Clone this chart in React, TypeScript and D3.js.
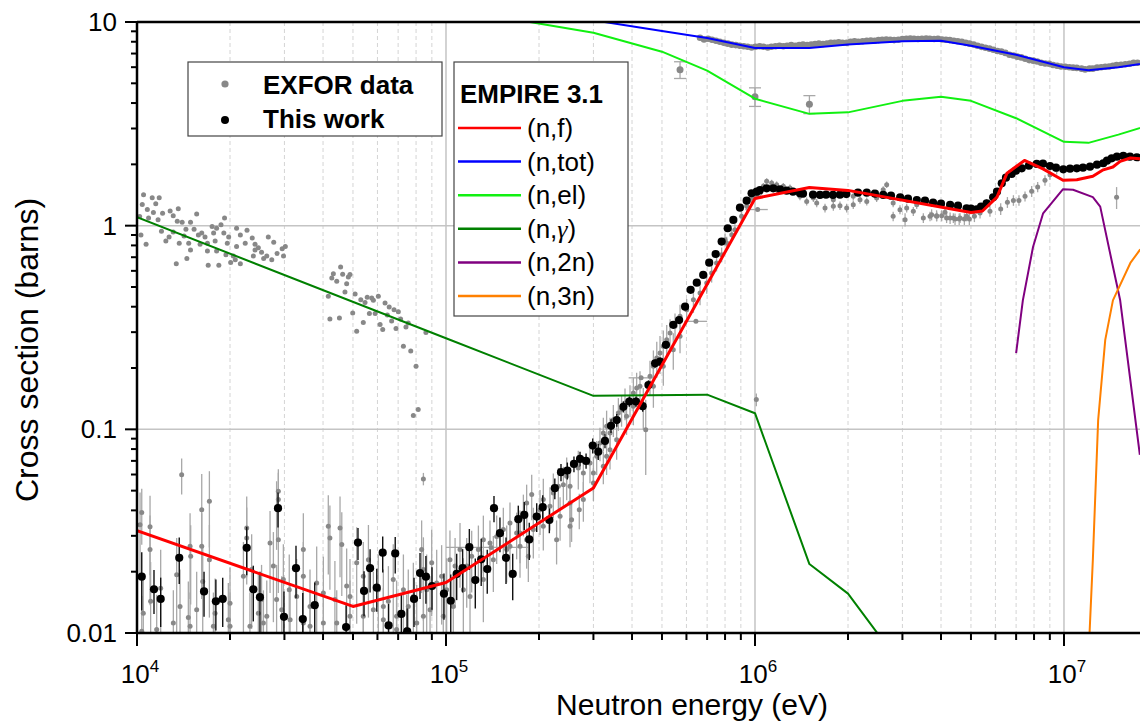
import React from 'react';
import * as d3 from 'd3';

const W = 1140;
const H = 723;

// axis ticks
const xMajorTicks = [1e4, 1e5, 1e6, 1e7];
const xMajorExp = ['4', '5', '6', '7'];
const yMajorTicks = [0.01, 0.1, 1, 10];
const yMajorLabels = ['0.01', '0.1', '1', '10'];
const minorMultipliers = [2, 3, 4, 5, 6, 7, 8, 9];

// EMPIRE 3.1 evaluations [energy eV, cross section b]
const empireFission: [number, number][] = [
  [1e4, 0.0318], [5e4, 0.0135], [1e5, 0.0177], [3e5, 0.0515], [1e6, 1.36], [1.5e6, 1.54],
  [2e6, 1.49], [5e6, 1.16], [5.45e6, 1.18], [6.07e6, 1.38], [6.54e6, 1.81], [7.45e6, 2.09],
  [8.55e6, 1.9], [9.93e6, 1.67], [1.1e7, 1.68], [1.24e7, 1.75], [1.34e7, 1.88], [1.44e7, 1.94],
  [1.52e7, 2.07], [1.64e7, 2.15], [1.76e7, 2.13], [2e7, 2.12],
];
const empireTotal: [number, number][] = [
  [2.5e5, 11.0], [3e5, 10.2], [5e5, 9.03], [7e5, 8.34], [1e6, 7.45], [1.5e6, 7.45], [2e6, 7.75],
  [3e6, 8.05], [4e6, 8.1], [5e6, 7.65], [7e6, 6.9], [1e7, 6.0], [1.2e7, 5.8], [1.5e7, 6.0], [2e7, 6.4],
];
const empireElastic: [number, number][] = [
  [1.6e5, 10.4], [3e5, 8.86], [5e5, 7.15], [7e5, 5.77], [1e6, 4.2], [1.5e6, 3.54], [2e6, 3.6],
  [3e6, 4.1], [4e6, 4.3], [5e6, 4.1], [7e6, 3.37], [1e7, 2.58], [1.2e7, 2.55], [1.5e7, 2.8], [2e7, 3.2],
];
const empireCapture: [number, number][] = [
  [1e4, 1.1], [1e5, 0.28], [3e5, 0.146], [7e5, 0.148], [1e6, 0.12], [1.5e6, 0.0218],
  [2e6, 0.0156], [2.5e6, 0.0099], [3e6, 0.0067],
];
const empireN2n: [number, number][] = [
  [7.0e6, 0.237], [7.36e6, 0.43], [7.94e6, 0.786], [8.56e6, 1.15], [9.93e6, 1.51], [1.07e7, 1.5],
  [1.24e7, 1.38], [1.31e7, 1.24], [1.44e7, 0.63], [1.52e7, 0.43], [1.76e7, 0.075],
];
const empireN3n: [number, number][] = [
  [1.2e7, 0.005], [1.21e7, 0.01], [1.24e7, 0.0229], [1.29e7, 0.111], [1.36e7, 0.275],
  [1.44e7, 0.43], [1.64e7, 0.656], [1.76e7, 0.76], [2e7, 0.85],
];

// This work [E, sigma, err]
const thisWork: [number, number, number][] = [
  [1.036e4, 0.0189, 0.006], [1.135e4, 0.0164, 0.004], [1.193e4, 0.0147, 0.004], [1.37e4, 0.0234, 0.006],
  [1.648e4, 0.016, 0.004], [1.8e4, 0.0143, 0.004], [1.894e4, 0.0147, 0.004], [2.265e4, 0.0262, 0.007],
  [2.379e4, 0.0164, 0.005], [2.5e4, 0.015, 0.005], [2.86e4, 0.041, 0.008], [2.99e4, 0.012, 0.004],
  [3.27e4, 0.0208, 0.006], [3.44e4, 0.0117, 0.004], [3.76e4, 0.0137, 0.004], [4.75e4, 0.0107, 0.003],
  [5.19e4, 0.0278, 0.005], [5.43e4, 0.0161, 0.004], [5.68e4, 0.0208, 0.005], [5.97e4, 0.0167, 0.004],
  [6.24e4, 0.0248, 0.005], [6.52e4, 0.0109, 0.003], [6.85e4, 0.0246, 0.005], [7.17e4, 0.0124, 0.003],
  [7.49e4, 0.0102, 0.003], [7.88e4, 0.0147, 0.004], [8.24e4, 0.0197, 0.005], [8.61e4, 0.0189, 0.005],
  [9.01e4, 0.017, 0.004], [9.85e4, 0.0156, 0.004], [1.036e5, 0.0144, 0.005], [1.083e5, 0.0195, 0.005],
  [1.132e5, 0.0208, 0.005], [1.19e5, 0.0264, 0.006], [1.244e5, 0.0182, 0.005], [1.30e5, 0.023, 0.006],
  [1.36e5, 0.0206, 0.005], [1.43e5, 0.041, 0.006], [1.495e5, 0.0309, 0.006], [1.564e5, 0.0234, 0.006],
  [1.644e5, 0.0195, 0.005], [1.714e5, 0.0362, 0.006], [1.792e5, 0.038, 0.006], [1.86e5, 0.0288, 0.006],
  [1.966e5, 0.0373, 0.006], [2.056e5, 0.0415, 0.006], [2.16e5, 0.0359, 0.005], [2.25e5, 0.0514, 0.006],
  [2.356e5, 0.0616, 0.006], [2.47e5, 0.0627, 0.006], [2.595e5, 0.0676, 0.006], [2.715e5, 0.0716, 0.006],
  [2.84e5, 0.070, 0.006], [2.985e5, 0.0832, 0.007], [3.11e5, 0.0777, 0.007], [3.27e5, 0.0877, 0.007],
  [3.42e5, 0.104, 0.008], [3.57e5, 0.111, 0.008], [3.75e5, 0.129, 0.008], [3.92e5, 0.137, 0.008],
  [4.12e5, 0.137, 0.008], [4.33e5, 0.130, 0.008], [4.52e5, 0.165, 0.009], [4.75e5, 0.211, 0.01],
  [4.93e5, 0.215, 0.01], [5.15e5, 0.26, 0.01], [5.44e5, 0.326, 0.012], [5.68e5, 0.344, 0.012],
  [5.94e5, 0.40, 0.012], [6.19e5, 0.484, 0.014], [6.48e5, 0.525, 0.014], [6.80e5, 0.573, 0.015],
  [7.11e5, 0.658, 0.016], [7.46e5, 0.726, 0.017], [7.80e5, 0.835, 0.018], [8.16e5, 0.971, 0.02],
  [8.51e5, 1.067, 0.02], [8.94e5, 1.226, 0.022], [9.40e5, 1.327, 0.024], [9.75e5, 1.443, 0.025],
  [1.013e6, 1.469, 0.025], [1.038e6, 1.497, 0.025], [1.091e6, 1.526, 0.025], [1.146e6, 1.526, 0.025],
  [1.205e6, 1.509, 0.025], [1.266e6, 1.485, 0.025], [1.327e6, 1.469, 0.025], [1.398e6, 1.443, 0.025],
  [1.43e6, 1.436, 0.025], [1.541e6, 1.42, 0.025], [1.623e6, 1.415, 0.025], [1.698e6, 1.42, 0.025],
  [1.788e6, 1.415, 0.025], [1.884e6, 1.42, 0.025], [1.975e6, 1.43, 0.025], [2.154e6, 1.452, 0.025],
  [2.30e6, 1.452, 0.025], [2.445e6, 1.436, 0.025], [2.60e6, 1.415, 0.025], [2.755e6, 1.404, 0.025],
  [2.95e6, 1.379, 0.025], [3.127e6, 1.357, 0.025], [3.34e6, 1.337, 0.025], [3.55e6, 1.327, 0.025],
  [3.77e6, 1.297, 0.025], [4.0e6, 1.282, 0.025], [4.28e6, 1.264, 0.025], [4.54e6, 1.254, 0.025],
  [4.84e6, 1.217, 0.025], [5.0e6, 1.212, 0.025], [5.22e6, 1.204, 0.025], [5.39e6, 1.24, 0.025],
  [5.62e6, 1.288, 0.025], [5.90e6, 1.379, 0.025], [6.07e6, 1.469, 0.025], [6.29e6, 1.615, 0.03],
  [6.49e6, 1.72, 0.03], [6.77e6, 1.794, 0.03], [6.99e6, 1.862, 0.03], [7.30e6, 1.913, 0.03],
  [7.70e6, 1.97, 0.03], [8.16e6, 2.009, 0.03], [8.55e6, 2.016, 0.03], [9.01e6, 1.963, 0.03],
  [9.42e6, 1.926, 0.03], [9.95e6, 1.891, 0.03], [1.046e7, 1.905, 0.03], [1.10e7, 1.913, 0.03],
  [1.152e7, 1.926, 0.03], [1.214e7, 1.948, 0.03], [1.279e7, 1.993, 0.03], [1.34e7, 2.025, 0.03],
  [1.378e7, 2.085, 0.03], [1.427e7, 2.142, 0.03], [1.484e7, 2.182, 0.03], [1.556e7, 2.199, 0.03],
  [1.635e7, 2.182, 0.03], [1.72e7, 2.167, 0.03],
];

// EXFOR capture-like cluster [E, sigma]
const exforCapture: [number, number][] = [
  [1.05e4, 1.42], [1.12e4, 1.37], [1.18e4, 1.37], [1.15e4, 1.28], [1.04e4, 1.27], [1.08e4, 1.20],
  [1.13e4, 1.16], [1.21e4, 1.15], [1.28e4, 1.18], [1.36e4, 1.21], [1.31e4, 1.12], [1.09e4, 1.09],
  [1.02e4, 1.11], [1.17e4, 1.07], [1.35e4, 1.05], [1.40e4, 1.04], [1.56e4, 1.14], [1.49e4, 1.04],
  [1.44e4, 0.96], [1.53e4, 0.96], [1.62e4, 0.92], [1.75e4, 0.99], [1.81e4, 0.97], [1.92e4, 1.09],
  [1.87e4, 1.01], [1.20e4, 0.94], [1.27e4, 0.88], [1.24e4, 0.84], [1.31e4, 0.93], [1.42e4, 0.89],
  [1.37e4, 0.82], [1.47e4, 0.82], [1.58e4, 0.90], [1.66e4, 0.88], [1.60e4, 0.81], [1.69e4, 0.82],
  [1.79e4, 0.84], [1.77e4, 0.92], [1.91e4, 0.92], [1.98e4, 0.88], [1.96e4, 0.82], [2.10e4, 0.97],
  [2.16e4, 0.90], [2.27e4, 0.95], [2.36e4, 0.87], [2.24e4, 0.82], [2.10e4, 0.79], [2.41e4, 0.81],
  [2.47e4, 0.78], [2.53e4, 0.74], [2.66e4, 0.88], [2.77e4, 0.83], [2.63e4, 0.71], [2.57e4, 0.69],
  [2.73e4, 0.68], [2.84e4, 0.73], [2.95e4, 0.77], [3.02e4, 0.79], [2.98e4, 0.71], [1.07e4, 0.81],
  [1.03e4, 0.90], [1.49e4, 0.76], [1.69e4, 0.75], [1.81e4, 0.75], [1.94e4, 0.72], [2.05e4, 0.71],
  [2.08e4, 0.68], [2.16e4, 0.65], [1.45e4, 0.69], [1.34e4, 0.65], [1.70e4, 0.64], [1.84e4, 0.64],
  [2.01e4, 0.66], [2.38e4, 0.71], [2.41e4, 0.76],
  [4.56e4, 0.627], [4.32e4, 0.581], [4.63e4, 0.577], [4.27e4, 0.554], [4.43e4, 0.533], [4.89e4, 0.575],
  [4.83e4, 0.56], [4.77e4, 0.519], [4.71e4, 0.473], [4.16e4, 0.45], [5.08e4, 0.462], [5.30e4, 0.433],
  [5.47e4, 0.42], [5.56e4, 0.445], [5.75e4, 0.442], [5.82e4, 0.43], [6.04e4, 0.45], [6.35e4, 0.417],
  [6.55e4, 0.399], [6.79e4, 0.387], [7.01e4, 0.378], [4.99e4, 0.373], [5.65e4, 0.37], [5.90e4, 0.37],
  [6.46e4, 0.364], [6.67e4, 0.34], [7.13e4, 0.348], [7.55e4, 0.333], [7.42e4, 0.318], [6.89e4, 0.313],
  [6.12e4, 0.327], [6.24e4, 0.309], [5.40e4, 0.335], [5.14e4, 0.303], [4.21e4, 0.348], [4.52e4, 0.352],
  [7.28e4, 0.2555], [7.69e4, 0.2425], [8.0e4, 0.204], [8.61e4, 0.299], [7.84e4, 0.1168], [8.13e4, 0.125],
];

// EXFOR fission data below 200 keV [E, sigma, err]
const exforFissionLow: [number, number, number][] = [
  [1.036e4, 0.0391, 0.012], [1.023e4, 0.034, 0.015], [1.102e4, 0.0332, 0.014], [1.102e4, 0.0257, 0.012],
  [1.107e4, 0.0143, 0.008], [1.048e4, 0.0125, 0.006], [1.193e4, 0.0166, 0.009], [1.344e4, 0.0193, 0.01],
  [1.378e4, 0.0135, 0.007], [1.395e4, 0.0599, 0.012], [1.485e4, 0.0267, 0.012], [1.492e4, 0.0238, 0.01],
  [1.466e4, 0.0119, 0.006], [1.56e4, 0.013, 0.007], [1.62e4, 0.0403, 0.02], [1.62e4, 0.0267, 0.012],
  [1.632e4, 0.0179, 0.009], [1.715e4, 0.0443, 0.018], [1.715e4, 0.0229, 0.011], [1.789e4, 0.0125, 0.006],
  [2.0e4, 0.014, 0.007], [1.975e4, 0.0116, 0.006], [2.265e4, 0.0293, 0.012], [2.265e4, 0.0328, 0.014],
  [2.21e4, 0.019, 0.009], [2.35e4, 0.0205, 0.01], [2.47e4, 0.0125, 0.007], [2.695e4, 0.0277, 0.012],
  [2.83e4, 0.0406, 0.015], [2.867e4, 0.0496, 0.014], [2.867e4, 0.0452, 0.016], [2.867e4, 0.0287, 0.013],
  [2.763e4, 0.0213, 0.01], [2.976e4, 0.0183, 0.009], [3.11e4, 0.0163, 0.008], [3.287e4, 0.0151, 0.008],
  [3.454e4, 0.0257, 0.013], [3.454e4, 0.019, 0.009], [3.63e4, 0.0135, 0.007], [3.815e4, 0.0176, 0.009],
  [4.01e4, 0.0157, 0.008], [4.16e4, 0.0334, 0.014], [4.21e4, 0.0293, 0.013], [4.37e4, 0.0146, 0.008],
  [4.54e4, 0.0328, 0.014], [4.6e4, 0.0272, 0.012], [4.77e4, 0.017, 0.009], [4.89e4, 0.0151, 0.008],
  [5.14e4, 0.0221, 0.011], [5.4e4, 0.019, 0.009], [5.61e4, 0.0229, 0.011], [5.82e4, 0.013, 0.007],
  [6.04e4, 0.0163, 0.008], [6.27e4, 0.0135, 0.007], [6.51e4, 0.0143, 0.007], [6.75e4, 0.0183, 0.009],
  [6.92e4, 0.0121, 0.006], [7.28e4, 0.0163, 0.008], [7.55e4, 0.0135, 0.007], [7.84e4, 0.0151, 0.007],
  [8.04e4, 0.0112, 0.006], [8.34e4, 0.0257, 0.01], [8.45e4, 0.0571, 0.004], [8.45e4, 0.0205, 0.009],
  [8.66e4, 0.0163, 0.008], [8.99e4, 0.0221, 0.01], [9.33e4, 0.0176, 0.008], [9.68e4, 0.019, 0.008],
  [1.005e5, 0.0163, 0.007], [1.03e5, 0.0229, 0.009], [1.07e5, 0.0213, 0.008], [1.11e5, 0.0257, 0.009],
  [1.167e5, 0.0213, 0.008], [1.211e5, 0.0238, 0.008], [1.273e5, 0.0257, 0.008], [1.321e5, 0.0287, 0.009],
  [1.388e5, 0.0277, 0.008], [1.459e5, 0.0298, 0.008], [1.533e5, 0.0322, 0.009], [1.611e5, 0.0347, 0.009],
  [1.693e5, 0.031, 0.008], [1.78e5, 0.0388, 0.009], [1.824e5, 0.0435, 0.01], [1.847e5, 0.0238, 0.006],
  [1.321e5, 0.0183, 0.007], [1.423e5, 0.0229, 0.007], [1.572e5, 0.0257, 0.008], [1.736e5, 0.0267, 0.008],
  [1.138e5, 0.0163, 0.007], [1.196e5, 0.0151, 0.006], [1.056e5, 0.0135, 0.006], [9.8e4, 0.0121, 0.006],
  [8.88e4, 0.013, 0.006], [8.45e4, 0.0121, 0.006], [5.4e4, 0.0121, 0.006], [4.89e4, 0.0121, 0.006],
  [4.43e4, 0.0112, 0.005], [4.01e4, 0.0112, 0.005], [3.63e4, 0.0108, 0.005], [3.454e4, 0.0112, 0.005],
  [3.13e4, 0.0116, 0.006], [2.565e4, 0.0112, 0.005], [2.32e4, 0.0108, 0.005], [2.0e4, 0.0108, 0.005],
  [1.767e4, 0.0108, 0.005], [1.485e4, 0.0108, 0.005], [1.311e4, 0.0112, 0.005], [1.158e4, 0.0104, 0.005],
  [1.036e4, 0.0102, 0.005], [2.83e4, 0.0146, 0.007], [2.94e4, 0.013, 0.006], [2.63e4, 0.0121, 0.006],
  [2.53e4, 0.0146, 0.007], [6.27e4, 0.0116, 0.005], [6.92e4, 0.0104, 0.005], [7.46e4, 0.0104, 0.005],
];

// EXFOR fission data in the threshold rise [E, sigma, err]
const exforFissionRise: [number, number, number][] = [
  [1.611e5, 0.0267, 0.008], [1.736e5, 0.031, 0.009], [1.917e5, 0.0322, 0.009], [1.894e5, 0.0478, 0.012],
  [2.015e5, 0.0403, 0.01], [2.065e5, 0.0452, 0.012], [2.17e5, 0.0419, 0.01], [2.225e5, 0.0487, 0.012],
  [2.31e5, 0.0525, 0.012], [2.398e5, 0.0535, 0.012], [2.458e5, 0.0588, 0.014], [2.52e5, 0.0525, 0.012],
  [2.68e5, 0.0646, 0.014], [2.70e5, 0.0403, 0.008], [2.55e5, 0.036, 0.008], [2.783e5, 0.0611, 0.012],
  [2.924e5, 0.0684, 0.014], [3.0e5, 0.0611, 0.012], [3.074e5, 0.0737, 0.014], [3.15e5, 0.0857, 0.016],
  [3.23e5, 0.096, 0.018], [3.31e5, 0.1035, 0.02], [3.395e5, 0.096, 0.018], [3.48e5, 0.1116, 0.02],
  [3.613e5, 0.1203, 0.022], [3.70e5, 0.125, 0.022], [3.796e5, 0.1347, 0.024], [3.94e5, 0.1398, 0.025],
  [4.04e5, 0.1508, 0.028], [4.14e5, 0.1596, 0.03], [4.245e5, 0.1626, 0.03], [4.35e5, 0.1297, 0.03],
  [4.43e5, 0.0996, 0.04], [4.573e5, 0.182, 0.035], [4.69e5, 0.2039, 0.04], [4.81e5, 0.224, 0.045],
  [4.927e5, 0.237, 0.05], [5.05e5, 0.2556, 0.05], [5.18e5, 0.2756, 0.05], [5.31e5, 0.297, 0.05],
  [5.51e5, 0.3204, 0.05], [5.72e5, 0.3588, 0.05], [6.01e5, 0.387, 0.05], [2.783e5, 0.0452, 0.01],
  [2.52e5, 0.0435, 0.01], [2.34e5, 0.0374, 0.009], [2.065e5, 0.0334, 0.008], [1.824e5, 0.0287, 0.008],
  [2.28e5, 0.0287, 0.007], [3.395e5, 0.0795, 0.016], [3.567e5, 0.089, 0.018], [3.0e5, 0.0545, 0.01],
  [3.23e5, 0.0658, 0.012], [4.04e5, 0.1297, 0.025], [3.84e5, 0.1159, 0.022], [4.69e5, 0.1626, 0.035],
  [5.05e5, 0.2039, 0.04], [5.44e5, 0.246, 0.05], [5.72e5, 0.2862, 0.05], [2.52e5, 0.0334, 0.007],
  [3.31e5, 0.0737, 0.014], [6.32e5, 0.433, 0.06], [6.64e5, 0.467, 0.06], [6.98e5, 0.523, 0.06],
  [7.24e5, 0.5855, 0.06], [7.51e5, 0.6557, 0.06], [7.80e5, 0.7205, 0.06], [8.10e5, 0.822, 0.06],
  [8.41e5, 0.903, 0.06], [8.61e5, 0.9557, 0.06], [9.05e5, 1.111, 0.06], [9.40e5, 1.244, 0.06],
  [9.75e5, 1.367, 0.06], [1.013e6, 1.393, 0.05], [1.038e6, 1.446, 0.05], [8.0e5, 0.853, 0.06],
  [1.01e6, 0.14, 0.01],
];

// EXFOR fission data above 1 MeV [E, sigma, err]
const exforFissionHigh: [number, number, number][] = [
  [1.091e6, 1.651, 0.06], [1.132e6, 1.62, 0.06], [1.175e6, 1.589, 0.06], [1.235e6, 1.56, 0.06],
  [1.298e6, 1.531, 0.06], [1.398e6, 1.393, 0.06], [1.47e6, 1.316, 0.06], [1.584e6, 1.292, 0.06],
  [1.685e6, 1.221, 0.06], [1.793e6, 1.244, 0.06], [1.884e6, 1.254, 0.06], [1.98e6, 1.221, 0.06],
  [2.08e6, 1.268, 0.06], [2.30e6, 1.316, 0.06], [2.476e6, 1.367, 0.06], [2.668e6, 1.589, 0.06],
  [2.80e6, 1.111, 0.06], [2.946e6, 1.198, 0.06], [3.097e6, 1.221, 0.06], [3.06e6, 1.07, 0.08],
  [3.254e6, 1.176, 0.06], [3.506e6, 1.09, 0.06], [3.685e6, 1.111, 0.06], [3.873e6, 1.111, 0.06],
  [4.17e6, 1.09, 0.06], [4.385e6, 1.09, 0.06], [4.61e6, 1.09, 0.06], [4.84e6, 1.111, 0.06],
  [5.09e6, 1.176, 0.06], [5.35e6, 1.221, 0.06], [5.62e6, 1.292, 0.06], [2.60e6, 1.502, 0.06],
  [2.415e6, 1.446, 0.06], [2.187e6, 1.341, 0.06], [1.793e6, 1.341, 0.06], [1.545e6, 1.367, 0.06],
  [1.331e6, 1.474, 0.06], [1.175e6, 1.502, 0.06], [1.064e6, 1.56, 0.06], [2.08e6, 1.393, 0.06],
  [2.80e6, 1.292, 0.06], [3.337e6, 1.268, 0.06],
  [3.73e6, 1.132, 0.07], [3.87e6, 1.12, 0.07], [4.02e6, 1.12, 0.07], [4.12e6, 1.163, 0.07],
  [4.28e6, 1.09, 0.07], [4.44e6, 1.078, 0.07], [4.58e6, 1.078, 0.07], [4.76e6, 1.078, 0.07],
  [4.94e6, 1.078, 0.07], [5.13e6, 1.111, 0.07], [5.35e6, 1.154, 0.07], [5.76e6, 1.176, 0.07],
  [6.24e6, 1.207, 0.08], [6.56e6, 1.302, 0.08], [6.86e6, 1.331, 0.08], [7.15e6, 1.331, 0.08],
  [7.48e6, 1.393, 0.08], [7.86e6, 1.474, 0.09], [8.22e6, 1.548, 0.09], [8.68e6, 1.669, 0.1],
  [9.01e6, 1.78, 0.1], [9.47e6, 1.884, 0.1], [1.48e7, 1.377, 0.17],
];

// EXFOR wide-bin points [E, sigma, Elow, Ehigh]
const exforWideBins: [number, number, number, number][] = [
  [6.44e5, 0.339, 5.9e5, 7.0e5], [4.28e5, 0.179, 3.9e5, 4.7e5], [1.02e6, 1.2, 9.3e5, 1.1e6],
  [1.4e5, 0.0263, 1.0e5, 1.85e5],
];

// EXFOR elastic points [E, sigma, err]
const exforElastic: [number, number, number][] = [
  [5.72e5, 5.83, 0.55], [1.0e6, 4.3, 0.45], [1.5e6, 3.95, 0.4],
];

// EXFOR total cross sections [E, sigma]
const exforTotalA: [number, number][] = [
  [6.64e5, 8.37], [7.05e5, 8.27], [7.48e5, 8.09], [7.93e5, 7.91], [8.41e5, 7.74], [8.93e5, 7.65],
  [9.47e5, 7.56], [1.004e6, 7.56], [1.065e6, 7.56], [1.13e6, 7.56], [1.2e6, 7.65], [1.27e6, 7.65],
  [1.35e6, 7.65], [1.43e6, 7.74], [1.52e6, 7.74], [1.61e6, 7.83], [1.71e6, 7.83], [1.81e6, 7.91],
  [1.92e6, 7.91], [2.04e6, 8.0], [2.16e6, 8.0], [2.3e6, 8.09], [2.44e6, 8.09], [2.58e6, 8.18],
  [2.74e6, 8.18], [2.91e6, 8.18], [3.09e6, 8.27], [3.27e6, 8.27], [3.47e6, 8.27], [3.68e6, 8.27],
  [3.91e6, 8.27], [4.15e6, 8.18], [4.4e6, 8.09], [4.67e6, 8.0], [4.95e6, 7.83], [5.25e6, 7.65],
  [5.57e6, 7.48], [5.91e6, 7.31], [6.27e6, 7.15], [6.66e6, 6.91], [7.06e6, 6.76], [7.49e6, 6.6],
  [7.95e6, 6.46], [8.43e6, 6.31], [8.95e6, 6.24], [9.5e6, 6.1], [1.01e7, 6.03], [1.07e7, 5.97],
  [1.14e7, 5.9], [1.21e7, 5.9], [1.28e7, 5.97], [1.36e7, 6.03], [1.44e7, 6.1], [1.53e7, 6.17],
  [1.63e7, 6.24], [1.73e7, 6.31],
];
const exforTotalB: [number, number][] = [
  [6.84e5, 8.2], [7.26e5, 8.18], [7.7e5, 8.0], [8.17e5, 7.83], [8.67e5, 7.7], [9.2e5, 7.6],
  [9.75e5, 7.5], [1.035e6, 7.6], [1.1e6, 7.5], [1.165e6, 7.6], [1.235e6, 7.6], [1.31e6, 7.7],
  [1.39e6, 7.7], [1.475e6, 7.7], [1.565e6, 7.8], [1.66e6, 7.8], [1.76e6, 7.9], [1.865e6, 7.95],
  [1.98e6, 7.9], [2.1e6, 8.05], [2.23e6, 8.05], [2.37e6, 8.1], [2.51e6, 8.15], [2.66e6, 8.2],
  [2.82e6, 8.15], [3.0e6, 8.25], [3.18e6, 8.3], [3.37e6, 8.25], [3.58e6, 8.3], [3.8e6, 8.25],
  [4.03e6, 8.2], [4.27e6, 8.15], [4.53e6, 8.05], [4.81e6, 7.9], [5.1e6, 7.75], [5.41e6, 7.55],
  [5.74e6, 7.4], [6.09e6, 7.2], [6.46e6, 7.05], [6.86e6, 6.85], [7.27e6, 6.7], [7.72e6, 6.5],
  [8.19e6, 6.4], [8.69e6, 6.25], [9.22e6, 6.15], [9.78e6, 6.05], [1.04e7, 6.0], [1.1e7, 5.95],
  [1.17e7, 5.85], [1.24e7, 5.9], [1.32e7, 6.0], [1.4e7, 6.05], [1.48e7, 6.15], [1.58e7, 6.2],
  [1.68e7, 6.3],
];

const curveSeries = [
  { key: 'tot', label: '(n,tot)', color: '#0000ff', data: empireTotal, width: 2 },
  { key: 'el', label: '(n,el)', color: '#11f011', data: empireElastic, width: 2 },
  { key: 'g', label: '(n,γ)', color: '#008000', data: empireCapture, width: 2 },
  { key: '2n', label: '(n,2n)', color: '#800080', data: empireN2n, width: 2 },
  { key: '3n', label: '(n,3n)', color: '#ff8000', data: empireN3n, width: 2 },
  { key: 'f', label: '(n,f)', color: '#ff0000', data: empireFission, width: 3 },
];
const legendOrder = ['f', 'tot', 'el', 'g', '2n', '3n'];

const FONT = "'Liberation Sans', Arial, Helvetica, sans-serif";
const GRAY = '#888888';
const GRAY_ERR = '#a8a8a8';

export default function App() {
  const x = d3.scaleLog().domain([1e4, 2e7]).range([137, 1157]);
  const y = d3.scaleLog().domain([0.01, 10]).range([633, 22]);
  const yc = (v: number) => y(Math.max(v, 0.002));
  const line = d3.line<[number, number]>().x((d) => x(d[0])).y((d) => yc(d[1]));

  const xMinor: number[] = [];
  xMajorTicks.forEach((d) => minorMultipliers.forEach((m) => { if (d * m <= 2e7) xMinor.push(d * m); }));
  const yMinor: number[] = [];
  yMajorTicks.slice(0, 3).forEach((d) => minorMultipliers.forEach((m) => yMinor.push(d * m)));

  const gray3 = [...exforFissionLow, ...exforFissionRise, ...exforFissionHigh];

  return (
    <svg width={W} height={H} style={{ position: 'absolute', left: 0, top: 0, display: 'block' }} fontFamily={FONT}>
      <defs>
        <clipPath id="plotClip">
          <rect x={137} y={22} width={1020} height={611} />
        </clipPath>
      </defs>
      <rect x={0} y={0} width={W} height={H} fill="#ffffff" />

      {/* grid */}
      <g>
        {xMinor.map((v, i) => (
          <line key={'gx' + i} x1={x(v)} x2={x(v)} y1={22} y2={633} stroke="#d4d4d4" strokeWidth={1} strokeDasharray="4,3" />
        ))}
        {xMajorTicks.slice(1).map((v, i) => (
          <line key={'gX' + i} x1={x(v)} x2={x(v)} y1={22} y2={633} stroke="#c4c4c4" strokeWidth={1.5} />
        ))}
        {yMajorTicks.slice(1, 3).map((v, i) => (
          <line key={'gY' + i} x1={137} x2={W} y1={y(v)} y2={y(v)} stroke="#c4c4c4" strokeWidth={1.5} />
        ))}
      </g>

      <g clipPath="url(#plotClip)">
        {/* EXFOR error bars */}
        {gray3.map((d, i) => (
          <line key={'ge' + i} x1={x(d[0])} x2={x(d[0])} y1={yc(d[1] + d[2])} y2={yc(d[1] - d[2])} stroke={GRAY_ERR} strokeWidth={1.3} />
        ))}
        {exforWideBins.map((d, i) => (
          <line key={'gw' + i} x1={x(d[2])} x2={x(d[3])} y1={y(d[1])} y2={y(d[1])} stroke={GRAY_ERR} strokeWidth={1.3} />
        ))}
        {exforElastic.map((d, i) => (
          <g key={'gel' + i} stroke={GRAY_ERR} strokeWidth={1.3}>
            <line x1={x(d[0])} x2={x(d[0])} y1={y(d[1] + d[2])} y2={y(d[1] - d[2])} />
            <line x1={x(d[0]) - 6} x2={x(d[0]) + 6} y1={y(d[1] + d[2])} y2={y(d[1] + d[2])} />
            <line x1={x(d[0]) - 6} x2={x(d[0]) + 6} y1={y(d[1] - d[2])} y2={y(d[1] - d[2])} />
          </g>
        ))}
        {/* EXFOR points */}
        {exforCapture.map((d, i) => (
          <circle key={'gc' + i} cx={x(d[0])} cy={y(d[1])} r={2.5} fill={GRAY} />
        ))}
        {gray3.map((d, i) => (
          <circle key={'gp' + i} cx={x(d[0])} cy={y(d[1])} r={2.5} fill={GRAY} />
        ))}
        {exforWideBins.map((d, i) => (
          <circle key={'gwp' + i} cx={x(d[0])} cy={y(d[1])} r={2.5} fill={GRAY} />
        ))}
        {exforElastic.map((d, i) => (
          <circle key={'gelp' + i} cx={x(d[0])} cy={y(d[1])} r={3.5} fill={GRAY} />
        ))}
        {[...exforTotalA, ...exforTotalB].map((d, i) => (
          <circle key={'gt' + i} cx={x(d[0])} cy={y(d[1])} r={3.3} fill={GRAY} />
        ))}

        {/* This work */}
        {thisWork.map((d, i) => (
          <line key={'be' + i} x1={x(d[0])} x2={x(d[0])} y1={yc(d[1] + d[2])} y2={yc(d[1] - d[2])} stroke="#111" strokeWidth={1.4} />
        ))}
        {thisWork.map((d, i) => (
          <circle key={'bp' + i} cx={x(d[0])} cy={y(d[1])} r={4.1} fill="#000" />
        ))}

        {/* EMPIRE curves */}
        {curveSeries.map((s) => (
          <path key={s.key} d={line(s.data) || ''} fill="none" stroke={s.color} strokeWidth={s.width} strokeLinejoin="round" />
        ))}
      </g>

      {/* axes */}
      <line x1={137} x2={W} y1={22} y2={22} stroke="#000" strokeWidth={2.5} />
      <line x1={137} x2={W} y1={633} y2={633} stroke="#000" strokeWidth={2.5} />
      <line x1={137} x2={137} y1={21} y2={634} stroke="#000" strokeWidth={2.5} />

      {/* y ticks */}
      {yMajorTicks.map((v, i) => (
        <g key={'yt' + i}>
          <line x1={125} x2={137} y1={y(v)} y2={y(v)} stroke="#000" strokeWidth={2} />
          <text x={117} y={y(v) + 9} textAnchor="end" fontSize={26} fill="#000">{yMajorLabels[i]}</text>
        </g>
      ))}
      {yMinor.map((v, i) => (
        <line key={'ym' + i} x1={131} x2={137} y1={y(v)} y2={y(v)} stroke="#000" strokeWidth={2} />
      ))}

      {/* x ticks */}
      {xMajorTicks.map((v, i) => (
        <g key={'xt' + i}>
          <line x1={x(v)} x2={x(v)} y1={633} y2={646} stroke="#000" strokeWidth={2} />
          <text x={x(v) + 3} y={683} textAnchor="middle" fontSize={26} fill="#000">
            10<tspan fontSize={17} dy={-11}>{xMajorExp[i]}</tspan>
          </text>
        </g>
      ))}
      {xMinor.map((v, i) => (
        <line key={'xm' + i} x1={x(v)} x2={x(v)} y1={633} y2={640} stroke="#000" strokeWidth={2} />
      ))}

      {/* axis titles */}
      <text x={692} y={715} textAnchor="middle" fontSize={30} fill="#000">Neutron energy (eV)</text>
      <text transform="translate(38,350) rotate(-90)" textAnchor="middle" fontSize={32} fill="#000">Cross section (barns)</text>

      {/* legend 1 */}
      <rect x={188} y={62} width={254} height={74} fill="#fff" stroke="#444" strokeWidth={1.2} />
      <circle cx={225} cy={84} r={3.6} fill={GRAY} />
      <text x={263} y={94} fontSize={26} fontWeight="bold" fill="#000">EXFOR data</text>
      <circle cx={225} cy={120} r={4} fill="#000" />
      <text x={263} y={128} fontSize={26} fontWeight="bold" fill="#000">This work</text>

      {/* legend 2 */}
      <rect x={454} y={62} width={174} height={254} fill="#fff" stroke="#444" strokeWidth={1.2} />
      <text x={460} y={103} fontSize={26} fontWeight="bold" fill="#000">EMPIRE 3.1</text>
      {legendOrder.map((k, i) => {
        const s = curveSeries.find((c) => c.key === k)!;
        const ly = 128 + i * 33.6;
        return (
          <g key={'lg' + k}>
            <line x1={458} x2={521} y1={ly} y2={ly} stroke={s.color} strokeWidth={2.5} />
            {k === 'g' ? (
              <text x={527} y={ly + 9} fontSize={26} fill="#000">
                (n,<tspan fontFamily="'Liberation Serif', 'DejaVu Serif', serif" fontStyle="italic">γ</tspan>)
              </text>
            ) : (
              <text x={527} y={ly + 9} fontSize={26} fill="#000">{s.label}</text>
            )}
          </g>
        );
      })}
    </svg>
  );
}
